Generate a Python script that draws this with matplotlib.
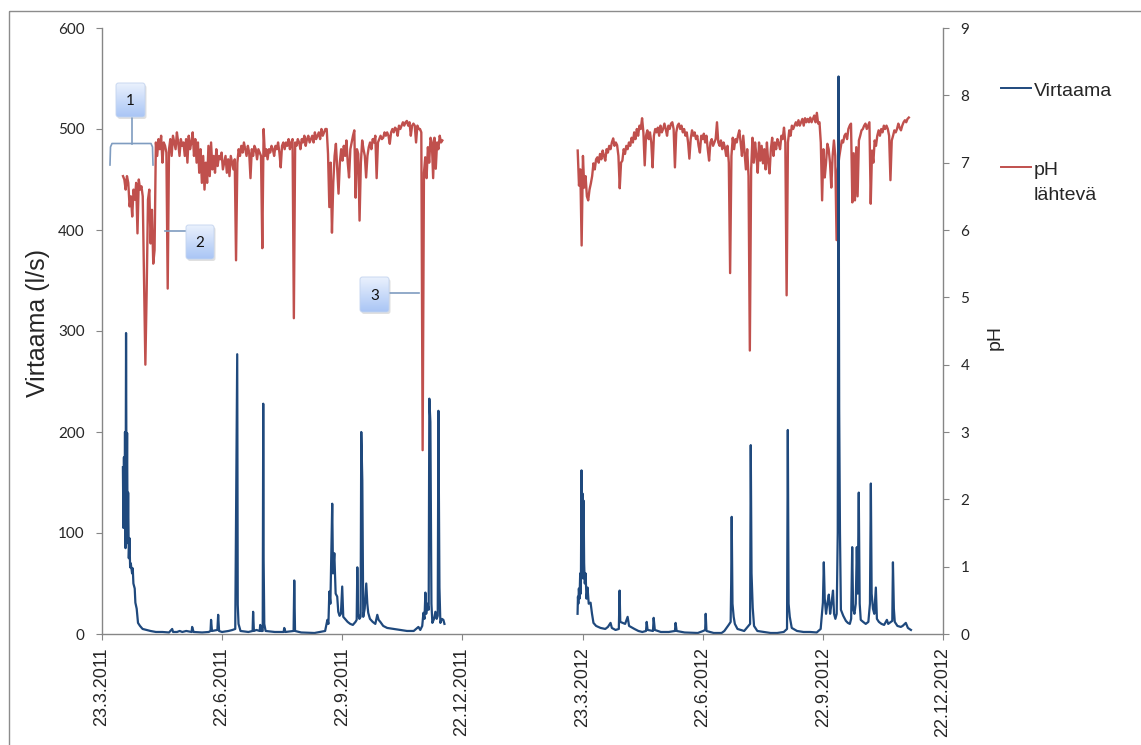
import numpy as np
import matplotlib
matplotlib.use('Agg')
import matplotlib.pyplot as plt
import matplotlib.dates as mdates
from matplotlib.patches import Rectangle, FancyBboxPatch
from matplotlib.colors import LinearSegmentedColormap

# Data: days counted from 23.3.2011
start_date = '2011-03-23'
end_date = '2012-12-22'

tick_dates = ['2011-03-23', '2011-06-22', '2011-09-22', '2011-12-22',
              '2012-03-23', '2012-06-22', '2012-09-22', '2012-12-22']
tick_labels = ['23.3.2011', '22.6.2011', '22.9.2011', '22.12.2011',
               '23.3.2012', '22.6.2012', '22.9.2012', '22.12.2012']

# Virtaama (l/s), irregular sampling
flow_2011_day = [15.9, 16.3, 16.7, 17.1, 17.5, 17.9, 18.3, 18.7, 19.1, 19.5,
                 19.9, 20.4, 20.9, 21.4, 21.9, 22.9, 23.4, 23.9, 24.9, 25.4,
                 26.4, 27.4, 28.9, 30.9, 33.9, 36.9, 41, 46, 51, 53.4,
                 54.1, 57.1, 59.1, 61.1, 64.1, 68.2, 68.6, 69.7, 76.2, 81.2,
                 82.6, 83, 83.7, 87.8, 88.4, 89.1, 91.3, 96.3, 99.3, 101.4,
                 102.9, 103.3, 103.9, 105.4, 111.4, 114.6, 115, 115.6, 117.5, 120,
                 120.4, 121, 122.3, 122.7, 123, 123.5, 124.5, 131.5, 138.2, 138.7,
                 139.6, 145.8, 146.3, 146.9, 151.6, 161.7, 169.8, 171.5, 172.3, 173,
                 173.8, 175.2, 175.8, 176.8, 177.8, 179, 179.8, 180.8, 181.8, 182.8,
                 183.6, 184.9, 186.9, 188.9, 190.9, 192.9, 193.8, 194.3, 194.9, 195.9,
                 196.8, 197.3, 198.1, 198.8, 199.9, 201.1, 201.9, 202.6, 203.9, 206,
                 208, 209.5, 210.5, 211.8, 214, 217, 222.1, 227.1, 232.1, 237.2,
                 240.8, 242.2, 243.7, 244.6, 245.4, 246.1, 246.7, 247.7, 248.6, 249.1,
                 249.9, 250.7, 251.4, 252.7, 253.7, 254.7, 255.5, 256, 256.8, 257.5,
                 258.6, 259.8, 260.6]
flow_2011 = [165, 105, 175, 115, 200, 85, 298, 120, 199, 90,
             140, 75, 95, 66, 70, 60, 65, 50, 45, 31,
             25, 11, 8, 5, 4, 3, 2, 2, 1.5, 5,
             2, 2, 3, 2, 3, 2, 7, 2, 1.5, 2,
             3, 14, 3, 4, 19, 3, 2, 3, 4, 5,
             277, 29, 10, 3, 2, 3, 22, 3, 4, 3,
             9, 3, 3, 228, 73, 10, 3, 2, 2, 6,
             2, 3, 53, 3, 1.5, 1, 3, 14, 10, 42,
             30, 129, 60, 80, 40, 37, 22, 18, 20, 47,
             17, 15, 12, 10, 9, 12, 14, 66, 20, 15,
             17, 200, 152, 17, 25, 50, 30, 21, 15, 12,
             10, 19, 14, 12, 8, 6, 5, 4, 3, 3,
             7, 4, 8, 21, 15, 41, 20, 30, 24, 233,
             210, 30, 11, 15, 22, 15, 18, 221, 46, 11,
             15, 14, 10]

flow_2012_day = [361.9, 362.2, 362.5, 362.9, 363.4, 363.9, 364.4, 364.9, 365.3, 365.7,
                 366.1, 366.5, 366.9, 367.4, 368, 368.7, 369.5, 370.4, 371.8, 372.9,
                 374, 376, 379.4, 383, 385, 387, 388, 390.8, 393.3, 393.9,
                 394.4, 396.2, 398.1, 400, 401.1, 405.2, 408.2, 411.2, 414, 414.5,
                 415.2, 419.3, 419.8, 420.7, 425.3, 431.3, 436, 436.5, 437.3, 443.4,
                 453.4, 457.5, 459, 459.4, 460, 465.5, 471.5, 473.6, 476.9, 478.4,
                 478.8, 479.2, 479.8, 480.7, 481.6, 483.6, 488.7, 493.2, 493.7, 494.3,
                 495.2, 496.2, 498.7, 503.7, 508.8, 513.8, 518.8, 521.3, 521.9, 522.5,
                 523.4, 524.9, 528.9, 533.9, 538.9, 543.9, 546.9, 548.6, 549.3, 550,
                 551, 552, 553.1, 554.1, 555.1, 556.3, 557.1, 558.1, 559.1, 559.9,
                 560.5, 561, 561.6, 562.3, 564.1, 566.1, 567.6, 569.1, 570.1, 570.9,
                 571.6, 572.6, 573.6, 574.4, 575.1, 575.9, 576.6, 577.4, 579.2, 581.2,
                 583.2, 584.4, 585.1, 585.7, 586.7, 587.7, 588.9, 589.7, 591.2, 593.2,
                 595.2, 597.3, 598.3, 600.3, 601.4, 601.9, 602.6, 603.3, 605.3, 607.9,
                 609.3, 611.7, 613.3, 615.6]
flow_2012 = [20, 37, 30, 45, 35, 60, 40, 162, 60, 139,
             55, 132, 70, 50, 60, 35, 46, 30, 31, 20,
             11, 8, 6, 5, 7, 11, 6, 4, 5, 43,
             12, 11, 10, 17, 8, 5, 3, 2, 3, 12,
             4, 3, 16, 4, 2, 2, 3, 11, 3, 1.5,
             1, 3, 4, 20, 3, 1, 1, 3, 9, 12,
             50, 116, 30, 17, 10, 5, 3, 10, 187, 60,
             26, 8, 3, 2, 1, 1, 2, 5, 202, 30,
             17, 6, 3, 2, 2, 1.5, 5, 31, 71, 35,
             20, 30, 39, 20, 30, 43, 20, 15, 20, 100,
             552, 223, 100, 24, 18, 13, 11, 10, 15, 86,
             25, 20, 30, 86, 40, 140, 30, 14, 12, 10,
             12, 30, 149, 40, 25, 20, 46, 15, 12, 10,
             9, 14, 10, 12, 13, 71, 25, 12, 8, 7,
             8, 11, 6, 4]

# pH lähtevä, daily values
ph_2011_first_day = 16
ph_2011 = [6.8, 6.75, 6.6, 6.8, 6.7, 6.35, 6.5, 6.2, 6.6, 6.45,
           6.7, 5.95, 6.75, 6.6, 6.65, 6.5, 5.2, 4.0, 5.1, 6.45,
           6.6, 5.8, 6.3, 5.5, 5.7,
           7.3, 7.1, 7.35, 7.2, 7.4, 7.0, 7.3, 7.25, 7.15, 5.13,
           7.2, 7.35, 7.1, 7.4, 7.3, 7.2, 7.45, 7.3, 7.1, 7.35, 7.25,
           7.3, 7.1, 7.35, 7.0, 7.4, 7.2, 7.3, 7.45, 7.1, 7.35,
           7.0, 7.3, 6.85, 7.2, 6.7, 7.1, 6.6, 7.0, 6.7, 7.25,
           6.8, 7.3, 6.9, 7.1, 6.85,
           7.2, 6.95, 7.1, 7.05, 7.15, 6.9, 7.0, 7.1, 6.85, 7.05,
           6.8, 7.1, 7.0, 6.9, 7.05,
           5.55,
           7.0, 7.2, 7.1, 7.25, 7.15, 7.3, 7.2, 7.1, 7.25, 7.15,
           6.77, 7.2, 7.1, 7.25, 7.2, 7.05, 7.2, 7.15, 7.1,
           5.73, 7.5,
           7.1, 7.2, 7.05, 7.2, 7.15, 7.25, 7.2, 7.1, 7.25, 7.2,
           7.3, 7.15, 6.93, 7.25, 7.3, 7.2, 7.3, 7.25, 7.35, 7.2,
           7.3, 7.35,
           4.69,
           7.3, 7.25, 7.35, 7.3, 7.2, 7.35, 7.3, 7.4, 7.25, 7.35,
           7.4, 7.3, 7.35, 7.4, 7.3, 7.45, 7.35, 7.4, 7.45, 7.35,
           7.5, 7.4, 7.45, 7.5, 7.5,
           7.13, 6.34, 7.0, 5.96, 6.7, 7.1, 7.28, 6.9, 6.54, 7.0,
           7.2, 7.03, 7.25, 7.1, 7.33, 7.0, 6.78, 7.2, 7.3, 7.4,
           7.48, 6.48, 7.2, 7.13, 6.14, 7.0, 7.33, 7.2,
           7.1, 6.78, 7.1, 7.23, 7.3, 7.2, 7.35, 7.3, 7.4, 6.77,
           7.3, 7.35, 7.4, 7.35, 7.37, 7.45, 7.4, 7.45, 7.4, 7.28,
           7.45, 7.5, 7.45, 7.52, 7.5, 7.4, 7.55, 7.5, 7.55, 7.6,
           7.55, 7.6, 7.62, 7.55, 7.6, 7.4, 7.55,
           7.58, 7.55, 7.3, 7.55, 7.5, 7.5, 7.45,
           2.73,
           6.85, 7.08, 6.77, 7.23, 7.0, 7.37, 7.3, 6.77, 7.37, 6.91,
           7.3, 7.2, 7.4, 7.3, 7.33]

ph_2012_first_day = 362
ph_2012 = [7.18, 6.66, 6.9, 5.77, 7.1, 6.63, 6.8, 6.5, 6.44, 6.6,
           6.69, 6.8, 6.99, 6.9, 7.05, 7.08, 7.0, 7.13, 7.05, 7.18,
           7.1, 7.03, 7.2, 7.15, 7.25, 7.2, 7.3, 7.36, 7.25, 7.3,
           7.26, 7.1, 6.62, 7.0, 7.03, 7.2, 7.13, 7.25, 7.2, 7.3,
           7.25, 7.37, 7.3, 7.45, 7.35, 7.5, 7.4, 7.55, 7.5, 7.66,
           7.45, 6.96, 7.4, 7.48, 7.35, 7.45, 7.3, 6.93, 7.4, 7.5,
           7.45, 7.52, 7.4, 7.55, 7.45, 7.5, 7.58, 7.5, 7.4, 7.55,
           7.5, 7.58, 7.6, 7.5, 6.93, 7.45, 7.55, 7.58, 7.5, 7.55,
           7.45, 7.5, 7.4, 7.45, 7.3, 7.06, 7.35, 7.48, 7.4, 7.45,
           7.35, 7.4, 7.25, 7.15, 7.4, 7.35, 7.43, 7.3, 7.4, 7.2,
           7.03, 7.3, 7.35, 7.25, 7.3, 7.35, 7.6, 7.3, 7.25, 7.33,
           7.2, 7.3, 7.23, 7.1, 7.25, 7.0, 5.36, 7.1, 7.37, 7.2,
           7.35, 7.3, 7.4, 7.48, 7.3, 7.1, 7.4, 7.14, 6.9, 7.2,
           6.8, 4.21, 6.9, 7.37, 7.0, 7.3, 7.1, 6.85, 7.3, 7.03,
           7.25, 6.99, 7.2, 6.9, 7.3, 7.0, 6.84, 7.2, 7.37, 7.1,
           7.3, 7.2, 7.35, 7.28, 7.2, 7.4, 7.35, 7.52, 7.3, 5.03,
           7.3, 7.48, 7.4, 7.55, 7.5, 7.55, 7.6, 7.55, 7.63, 7.55,
           7.6, 7.65, 7.55, 7.66, 7.6, 7.65, 7.6, 7.67, 7.6, 7.65,
           7.7, 7.6, 7.74, 7.58, 7.6, 7.3, 6.44, 7.2, 6.78, 7.0,
           7.28, 7.2, 7.0, 6.63, 7.1, 7.33, 7.1, 5.85, 6.9, 7.08,
           7.2, 7.33, 7.3, 7.4, 7.43, 7.35, 7.5, 7.55, 7.58, 6.41,
           7.14, 6.44, 7.23, 6.5, 7.33, 7.4, 7.48, 7.5, 7.55, 7.58,
           7.5, 7.55, 7.6, 6.39, 7.18, 7.0, 7.33, 7.25, 7.4, 7.48,
           7.4, 7.5, 7.45, 7.55, 7.5, 7.55, 7.5, 7.4, 6.74, 7.33,
           7.4, 7.48, 7.45, 7.5, 7.58, 7.52, 7.48, 7.55, 7.6, 7.63,
           7.6, 7.65, 7.67]

flow_color = '#1F497D'
ph_color = '#C0504D'
axis_gray = '#868686'
text_color = '#262626'

W, H = 1141, 745
fig = plt.figure(figsize=(W / 100, H / 100), dpi=100)
fig.patch.set_facecolor('white')

left, right, top, bottom = 102, 943, 28, 634
ax1 = fig.add_axes([left / W, 1 - bottom / H, (right - left) / W, (bottom - top) / H])
ax2 = ax1.twinx()

t0 = mdates.date2num(np.datetime64(start_date))
t1 = mdates.date2num(np.datetime64(end_date))

# pH on secondary axis, flow drawn above it
ax2.plot(t0 + ph_2011_first_day + np.arange(len(ph_2011)), ph_2011, color=ph_color, lw=1.7)
ax2.plot(t0 + ph_2012_first_day + np.arange(len(ph_2012)), ph_2012, color=ph_color, lw=1.7)
ax1.plot(t0 + np.array(flow_2011_day), flow_2011, color=flow_color, lw=1.6)
ax1.plot(t0 + np.array(flow_2012_day), flow_2012, color=flow_color, lw=1.6)
ax1.set_zorder(ax2.get_zorder() + 1)
ax1.patch.set_visible(False)

ax1.set_xlim(t0, t1)
ax1.set_ylim(0, 600)
ax2.set_ylim(0, 9)
ax1.set_yticks(range(0, 601, 100))
ax2.set_yticks(range(0, 10))
ax1.set_xticks([mdates.date2num(np.datetime64(d)) for d in tick_dates])
ax1.set_xticklabels(tick_labels, rotation=90, fontsize=13, family='Liberation Sans', color=text_color)

for a in (ax1, ax2):
    for s in a.spines.values():
        s.set_color(axis_gray)
        s.set_linewidth(1.0)
    a.spines['top'].set_visible(False)
ax1.spines['right'].set_visible(False)
ax2.spines['left'].set_visible(False)
ax2.spines['bottom'].set_visible(False)

ax1.tick_params(axis='y', length=4.5, color=axis_gray, pad=8, labelsize=11, labelcolor=text_color)
ax1.tick_params(axis='x', length=4.5, color=axis_gray, pad=5)
ax2.tick_params(axis='y', length=4.5, color=axis_gray, pad=8, labelsize=11, labelcolor=text_color)
for lab in ax1.get_yticklabels() + ax2.get_yticklabels():
    lab.set_family('Lato')

ax1.set_ylabel('Virtaama (l/s)', fontsize=18, family='Liberation Sans', color=text_color)
ax1.yaxis.set_label_coords(-0.062, 0.513)
ax2.set_ylabel('pH', fontsize=14, family='Liberation Sans', color=text_color)
ax2.yaxis.set_label_coords(1.052, 0.49)

# overlay in pixel coordinates for frame, legend and callouts
ov = fig.add_axes([0, 0, 1, 1], zorder=10)
ov.set_axis_off()
ov.patch.set_visible(False)

ov.add_patch(Rectangle((8.5, 10.5), 1200, 800, fill=False, ec='#8c8c8c', lw=1.0))

ov.plot([1001, 1031], [88, 88], color=flow_color, lw=1.4)
ov.text(1034, 96, 'Virtaama', fontsize=14, family='Liberation Sans', color=text_color, va='baseline')
ov.plot([1001, 1031], [167, 167], color=ph_color, lw=1.4)
ov.text(1034, 175, 'pH', fontsize=14, family='Liberation Sans', color=text_color, va='baseline')
ov.text(1034, 200, 'lähtevä', fontsize=14, family='Liberation Sans', color=text_color, va='baseline')

grad_cmap = LinearSegmentedColormap.from_list('callout', ['#eaf1fd', '#a9c5f5'])
grad = np.linspace(0, 1, 64).reshape(-1, 1)


def callout(x0, y0, x1, y1, label):
    shadow = FancyBboxPatch((x0 + 1.5, y0 + 2), x1 - x0, y1 - y0,
                            boxstyle='round,pad=0,rounding_size=2.5',
                            fc='#9a9a9a', ec='none', alpha=0.3, zorder=1)
    ov.add_patch(shadow)
    box = FancyBboxPatch((x0, y0), x1 - x0, y1 - y0,
                         boxstyle='round,pad=0,rounding_size=2.5',
                         fc='none', ec='#c3d4ef', lw=0.6, zorder=3)
    ov.add_patch(box)
    im = ov.imshow(grad, extent=(x0, x1, y1, y0), cmap=grad_cmap, zorder=2,
                   aspect='auto', interpolation='bilinear', origin='upper')
    im.set_clip_path(box)
    ov.text((x0 + x1) / 2, (y0 + y1) / 2 + 1, label, ha='center', va='center',
            fontsize=11, family='Lato', color='#111111', zorder=4)


line_col = '#7f9cc0'
ov.plot([110, 110.5, 112, 151, 152.5, 153], [165, 147, 143.5, 143.5, 147, 165], color=line_col, lw=1.2)
ov.plot([132, 132], [143.5, 118], color=line_col, lw=1.2)
callout(116, 83, 145, 117, '1')
ov.plot([165, 186], [231, 231], color=line_col, lw=1.2)
callout(186, 225, 214, 259, '2')
ov.plot([390, 419], [293, 293], color=line_col, lw=1.2)
callout(360, 277, 389, 312, '3')

ov.set_xlim(0, W)
ov.set_ylim(H, 0)

fig.savefig('out.png', dpi=100, facecolor='white')
